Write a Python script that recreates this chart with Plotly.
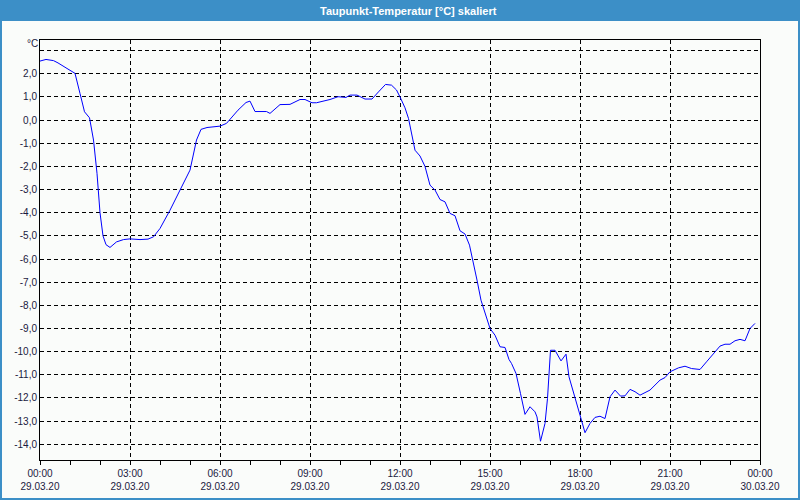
import plotly.graph_objects as go
from datetime import datetime

# ---- data ----
times = ["00:00","00:12","00:27","00:36","00:54","01:10","01:20","01:29","01:39","01:47",
         "01:54","02:00","02:06","02:12","02:20","02:33","02:47","03:00","03:20","03:36",
         "03:47","04:00","04:20","04:40","05:00","05:13","05:22","05:34","06:00","06:13",
         "06:36","06:52","07:00","07:10","07:33","07:40","08:00","08:20","08:40","08:50",
         "09:04","09:13","09:40","09:56","10:12","10:20","10:34","10:50","11:04","11:17",
         "11:31","11:43","11:53","12:00","12:10","12:17","12:23","12:30","12:40","12:50",
         "13:00","13:10","13:20","13:30","13:40","13:50","14:00","14:10","14:19","14:26",
         "14:34","14:42","14:52","15:00","15:10","15:20","15:30","15:38","15:43","15:52",
         "16:01","16:10","16:20","16:30","16:34","16:41","16:50","16:55","17:01","17:10",
         "17:22","17:32","17:38","17:50","18:00","18:10","18:20","18:30","18:40","18:50",
         "19:00","19:10","19:21","19:30","19:40","19:50","20:00","20:20","20:40","20:50",
         "21:00","21:17","21:30","21:43","22:00","22:13","22:30","22:40","22:50","23:00",
         "23:10","23:20","23:30","23:40","23:50"]
dewpoint = [2.55,2.62,2.57,2.47,2.23,2.02,1.15,0.36,0.10,-0.86,
            -2.30,-4.00,-5.00,-5.38,-5.50,-5.26,-5.16,-5.13,-5.16,-5.14,
            -5.04,-4.68,-3.89,-3.02,-2.16,-0.86,-0.40,-0.32,-0.26,-0.14,
            0.43,0.76,0.82,0.37,0.37,0.29,0.67,0.68,0.89,0.89,
            0.75,0.75,0.89,1.01,0.98,1.08,1.08,0.91,0.91,1.22,
            1.54,1.51,1.30,1.00,0.53,0.07,-0.50,-1.30,-1.55,-2.00,
            -2.81,-3.02,-3.43,-3.53,-4.03,-4.13,-4.78,-4.92,-5.40,-6.05,
            -6.91,-7.78,-8.50,-9.00,-9.29,-9.79,-9.82,-10.34,-10.51,-10.94,
            -11.81,-12.71,-12.38,-12.60,-12.82,-13.87,-13.10,-12.02,-9.94,-9.94,
            -10.40,-10.11,-11.09,-11.95,-12.74,-13.50,-13.10,-12.84,-12.79,-12.89,
            -11.95,-11.66,-11.92,-11.91,-11.63,-11.73,-11.88,-11.66,-11.23,-11.12,
            -10.87,-10.70,-10.63,-10.73,-10.77,-10.44,-10.01,-9.76,-9.68,-9.68,
            -9.53,-9.47,-9.53,-9.00,-8.78]
day = "2020-03-29"
y_ticks = list(range(-14, 4))
y_ticktext = [f"{v},0" for v in range(-14, 3)] + [""]
title_text = "Taupunkt-Temperatur [°C] skaliert"
unit_text = "°C"

x = [datetime.strptime(f"{day} {t}", "%Y-%m-%d %H:%M") for t in times]

FONT = "Liberation Sans"
TXT = "#1a1a40"
BLUE = "#3c8fc7"
W, H = 800, 500
ML, MR, MT, MB = 40, 40, 40, 40
PW, PH = W - ML - MR, H - MT - MB

fig = go.Figure(go.Scatter(x=x, y=dewpoint, mode="lines",
                           line=dict(color="#0000ff", width=1), hoverinfo="x+y"))

fig.update_layout(
    width=W, height=H,
    margin=dict(l=ML, r=MR, t=MT, b=MB, autoexpand=False),
    paper_bgcolor="#fafcfa", plot_bgcolor="#fafcfa",
    showlegend=False,
    font=dict(family=FONT, size=10, color=TXT),
    separators=",.",
)
fig.update_xaxes(
    type="date", automargin=False,
    range=["2020-03-29 00:00", "2020-03-30 00:00"],
    dtick=3 * 3600 * 1000, tick0="2020-03-29 00:00",
    tickformat="%H:%M<br>%d.%m.%y",
    ticks="outside", ticklen=4, tickcolor="black", tickwidth=1,
    ticklabelstandoff=0,
    minor=dict(dtick=3600 * 1000, ticks="outside", ticklen=4, tickcolor="black", showgrid=False),
    showgrid=True, gridcolor="black", gridwidth=1, griddash="4px,3px",
    showline=True, linecolor="black", linewidth=1, mirror=True,
    zeroline=False,
    tickfont=dict(family=FONT, size=10, color=TXT),
)
fig.update_yaxes(
    range=[-14.68, 3.46], automargin=False,
    tickvals=y_ticks, ticktext=y_ticktext,
    ticks="", showgrid=True, gridcolor="black", gridwidth=1, griddash="4px,3px",
    showline=True, linecolor="black", linewidth=1, mirror=True,
    zeroline=False,
    tickfont=dict(family=FONT, size=10, color=TXT),
)

px = lambda v: v / PW
py = lambda v: v / PH
# title bar
fig.add_shape(type="rect", xref="paper", yref="paper",
              x0=-px(ML), x1=1 + px(MR), y0=1 + py(MT - 21), y1=1 + py(MT),
              fillcolor=BLUE, line=dict(width=0), layer="above")
# outer border
fig.add_shape(type="rect", xref="paper", yref="paper",
              x0=-px(ML) + px(1), x1=1 + px(MR) - px(1), y0=-py(MB) + py(1), y1=1 + py(MT) - py(1),
              line=dict(color=BLUE, width=2), fillcolor="rgba(0,0,0,0)", layer="above")
fig.add_annotation(text=title_text, xref="paper", yref="paper",
                   x=0.5 + px(8), y=1 + py(MT - 10.5),
                   xanchor="center", yanchor="middle", showarrow=False,
                   font=dict(family=FONT, size=11, color="white", weight="bold"))
fig.add_annotation(text=unit_text, xref="paper", yref="paper",
                   x=-px(8), y=1 - py(4), xanchor="center", yanchor="middle",
                   showarrow=False, font=dict(family=FONT, size=10, color=TXT))

fig.write_html("out.html")
